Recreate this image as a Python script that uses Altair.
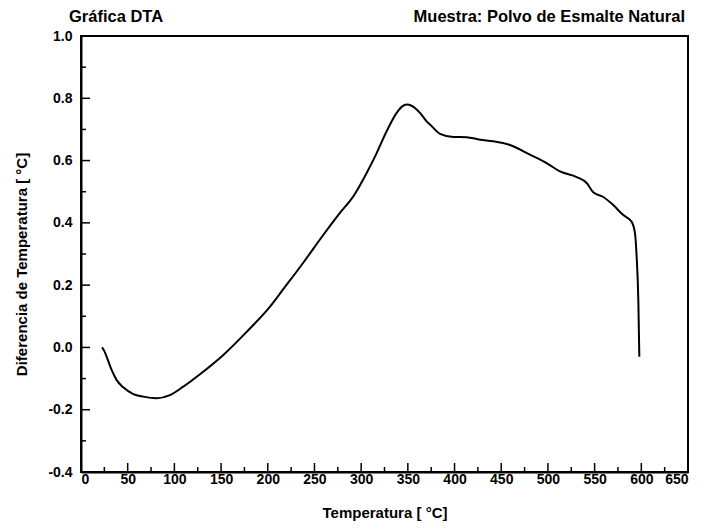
import altair as alt
import pandas as pd

# Curve data
temp = [22.5, 25, 27.5, 32.9, 38.2, 45.3, 56, 66.7, 81, 95.3, 109.5, 127.4, 152.4,
        177.4, 202.4, 216.6, 238, 259.4, 277.3, 291.6, 305.9, 316.6, 327.3, 338,
        344, 348.7, 354, 359.4, 363, 370.1, 373.7, 384.4, 398.7, 413, 427.3, 441.6,
        459.4, 480.8, 498.6, 512.9, 530.8, 541.5, 548.6, 559.3, 570, 580.7, 589.6,
        593.2, 595, 596.8, 597.9]
dta = [0.0, -0.012, -0.030, -0.073, -0.105, -0.128, -0.150, -0.158, -0.163, -0.153,
       -0.126, -0.086, -0.024, 0.050, 0.131, 0.187, 0.272, 0.361, 0.432, 0.485,
       0.560, 0.624, 0.694, 0.753, 0.774, 0.780, 0.776, 0.764, 0.753, 0.726, 0.716,
       0.686, 0.676, 0.675, 0.667, 0.662, 0.650, 0.619, 0.592, 0.565, 0.547, 0.528,
       0.498, 0.483, 0.457, 0.425, 0.404, 0.367, 0.292, 0.152, -0.030]

x_major = [0, 50, 100, 150, 200, 250, 300, 350, 400, 450, 500, 550, 600, 650]
x_minor = [25, 75, 125, 175, 225, 275, 325, 375, 425, 475, 525, 575, 625]
y_major = [-0.4, -0.2, 0.0, 0.2, 0.4, 0.6, 0.8, 1.0]
y_minor = [-0.3, -0.1, 0.1, 0.3, 0.5, 0.7, 0.9]

title_left = "Gráfica DTA"
title_right = "Muestra: Polvo de Esmalte Natural"
x_title = "Temperatura [ °C]"
y_title = "Diferencia de Temperatura [ °C]"

FONT = "Liberation Sans"
W, H = 607, 436

df = pd.DataFrame({"T": temp, "D": dta, "i": list(range(len(temp)))})

xs = alt.Scale(domain=[0, 650], nice=False, zero=False)
ys = alt.Scale(domain=[-0.4, 1.0], nice=False, zero=False)

lab_expr = "datum.value < -0.001 ? '-' + format(-datum.value, '.1f') : format(abs(datum.value), '.1f')"

line = alt.Chart(df).mark_line(color="black", strokeWidth=2, interpolate="monotone").encode(
    x=alt.X("T:Q", scale=xs,
            axis=alt.Axis(title=x_title, values=x_major, ticks=False,
                          labelPadding=0, titlePadding=19, format="d")),
    y=alt.Y("D:Q", scale=ys,
            axis=alt.Axis(title=y_title, values=y_major,
                          ticks=False, labelPadding=9, titlePadding=18,
                          titleY=228, labelExpr=lab_expr)),
    order="i:Q",
)

xmaj = alt.Chart(pd.DataFrame({"v": x_major})).mark_rule(color="black", strokeWidth=1.5).encode(
    x=alt.X("v:Q", scale=xs), y=alt.value(H), y2=alt.value(H - 9))
xmin = alt.Chart(pd.DataFrame({"v": x_minor})).mark_rule(color="black", strokeWidth=1.5).encode(
    x=alt.X("v:Q", scale=xs), y=alt.value(H), y2=alt.value(H - 5))
ymaj = alt.Chart(pd.DataFrame({"v": y_major})).mark_rule(color="black", strokeWidth=1.5).encode(
    y=alt.Y("v:Q", scale=ys), x=alt.value(0), x2=alt.value(9))
ymin = alt.Chart(pd.DataFrame({"v": y_minor})).mark_rule(color="black", strokeWidth=1.5).encode(
    y=alt.Y("v:Q", scale=ys), x=alt.value(0), x2=alt.value(5))

t_left = alt.Chart(pd.DataFrame({"t": [title_left]})).mark_text(
    align="left", baseline="middle", font=FONT, fontWeight="bold", fontSize=16.5, color="black"
).encode(text="t:N", x=alt.value(-12), y=alt.value(-19))
t_right = alt.Chart(pd.DataFrame({"t": [title_right]})).mark_text(
    align="right", baseline="middle", font=FONT, fontWeight="bold", fontSize=16.5, color="black"
).encode(text="t:N", x=alt.value(W - 3), y=alt.value(-19))

chart = alt.layer(line, xmaj, xmin, ymaj, ymin, t_left, t_right).properties(
    width=W, height=H,
    autosize=alt.AutoSizeParams(type="none"),
    padding={"left": 73, "top": 28, "right": 11, "bottom": 50},
).configure_view(
    stroke="black", strokeWidth=2
).configure_axis(
    domainColor="black", domainWidth=2, grid=False,
    labelFont=FONT, labelFontWeight="bold", labelFontSize=14, labelColor="black",
    titleFont=FONT, titleFontWeight="bold", titleFontSize=15, titleColor="black",
)

chart.save("out.html", embed_options={"renderer": "svg", "actions": False})
